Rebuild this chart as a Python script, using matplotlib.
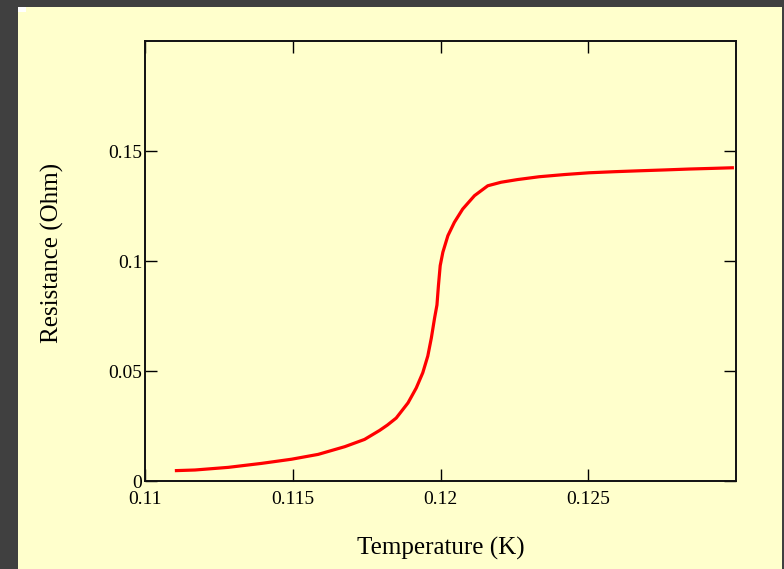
import matplotlib
matplotlib.use("Agg")
import matplotlib.pyplot as plt
from matplotlib.patches import Rectangle

# Measured resistance vs. temperature across the superconducting transition
temperature_K = [
    0.11101, 0.11169, 0.11282, 0.11394, 0.11496, 0.11586, 0.11676, 0.11743,
    0.11794, 0.11820, 0.11850, 0.11890, 0.11918, 0.11940, 0.11957, 0.11969,
    0.11980, 0.11988, 0.11993, 0.11999, 0.12008, 0.12025, 0.12047, 0.12075,
    0.12115, 0.12160, 0.12205, 0.12260, 0.12334, 0.12420, 0.12503, 0.12590,
    0.12672, 0.12760, 0.12841, 0.12920, 0.12993,
]
resistance_ohm = [
    0.0047, 0.0050, 0.0062, 0.0080, 0.0099, 0.0121, 0.0156, 0.0189,
    0.0230, 0.0254, 0.0286, 0.0355, 0.0423, 0.0492, 0.0568, 0.0650,
    0.0741, 0.0800, 0.0888, 0.0979, 0.1040, 0.1115, 0.1176, 0.1236,
    0.1297, 0.1342, 0.1358, 0.1370, 0.1383, 0.1393, 0.1401, 0.1406,
    0.1410, 0.1414, 0.1418, 0.1421, 0.1424,
]

x_ticks = [0.11, 0.115, 0.12, 0.125]
x_tick_labels = ["0.11", "0.115", "0.12", "0.125"]
y_ticks = [0, 0.05, 0.1, 0.15]
y_tick_labels = ["0", "0.05", "0.1", "0.15"]

W, H = 784, 569
bg = "#FFFFCC"
frame = "#404040"

plt.rcParams["font.family"] = ["Liberation Serif", "DejaVu Serif"]

fig = plt.figure(figsize=(W / 100, H / 100), dpi=100, facecolor=bg)

# dark window frame around the sheet
fig.patches.append(Rectangle((0, 0), 18 / W, 1, transform=fig.transFigure,
                             facecolor=frame, edgecolor="none", zorder=0))
fig.patches.append(Rectangle((0, 1 - 7 / H), 1, 7 / H, transform=fig.transFigure,
                             facecolor=frame, edgecolor="none", zorder=0))
fig.patches.append(Rectangle((782 / W, 0), 2 / W, 1, transform=fig.transFigure,
                             facecolor=frame, edgecolor="none", zorder=0))
fig.patches.append(Rectangle((18 / W, 1 - 12 / H), 8 / W, 5 / H, transform=fig.transFigure,
                             facecolor="white", edgecolor="none", zorder=1))

left, right, top, bottom = 145, 736, 41, 481
ax = fig.add_axes([left / W, 1 - bottom / H, (right - left) / W, (bottom - top) / H])
ax.set_facecolor(bg)

ax.plot(temperature_K, resistance_ohm, color="#FF0000", linewidth=2.3,
        solid_joinstyle="round", solid_capstyle="butt")

ax.set_xlim(0.11, 0.13)
ax.set_ylim(0, 0.2)
ax.set_xticks(x_ticks)
ax.set_xticklabels(x_tick_labels)
ax.set_yticks(y_ticks)
ax.set_yticklabels(y_tick_labels)

ax.tick_params(axis="both", direction="in", length=8.6, width=1.0, color="black",
               labelsize=14, top=True, right=True)
ax.tick_params(axis="x", pad=7.5)
ax.tick_params(axis="y", pad=2)

for s in ax.spines.values():
    s.set_linewidth(1.4)
    s.set_color("#111111")

ax.set_xlabel("Temperature (K)", fontsize=18)
ax.set_ylabel("Resistance (Ohm)", fontsize=18)
ax.xaxis.set_label_coords(0.5, (bottom - 548) / (bottom - top))
ax.xaxis.label.set_va("center")
ax.yaxis.set_label_coords((52 - left) / (right - left), (bottom - 253) / (bottom - top))
ax.yaxis.label.set_va("center")

fig.savefig("out.png", dpi=100, facecolor=bg)
